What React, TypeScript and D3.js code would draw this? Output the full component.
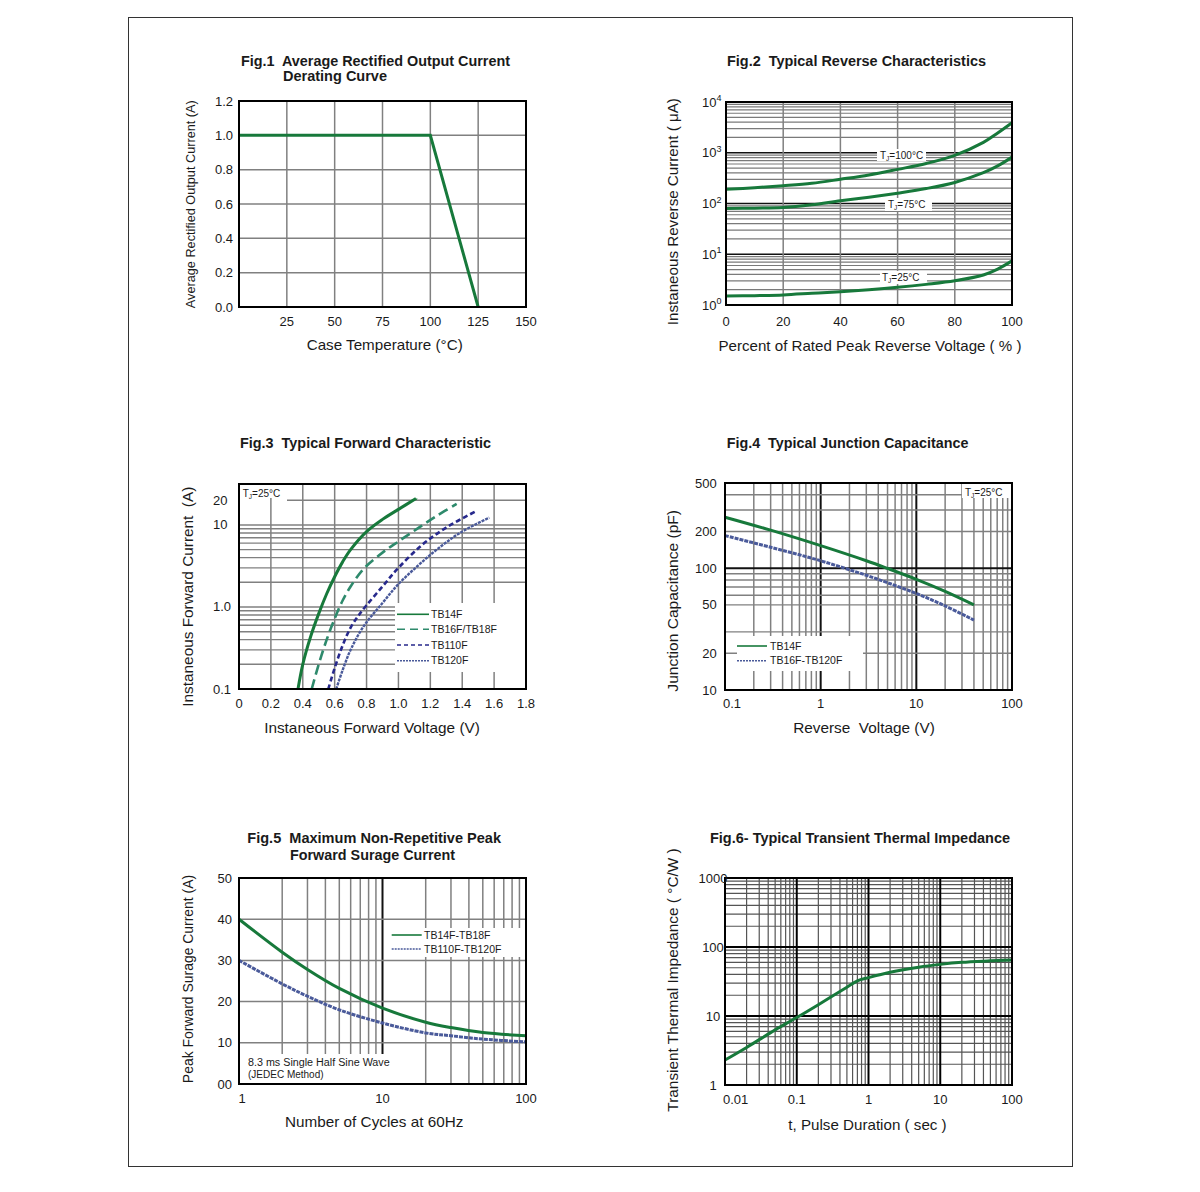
import React from 'react';
import * as d3 from 'd3';

const FONT = '"Liberation Sans", Arial, Helvetica, sans-serif';
const GREEN = '#17793b';
const TEAL = '#2e8a6c';
const NAVY = '#27298c';
const SLATE = '#4a5a9a';
const GRID = '#808080';
const SP = '\u00A0';

// ---------- Fig.1 data ----------
const fig1Temp = [0, 100, 125];
const fig1Current = [1.0, 1.0, 0.0];
const fig1XTicks = [25, 50, 75, 100, 125, 150];
const fig1XTickLabels = ['25', '50', '75', '100', '125', '150'];
const fig1YTicks = [0, 0.2, 0.4, 0.6, 0.8, 1.0, 1.2];
const fig1YTickLabels = ['0.0', '0.2', '0.4', '0.6', '0.8', '1.0', '1.2'];

// ---------- Fig.2 data ----------
const fig2Voltage = [0, 10, 20, 30, 40, 50, 60, 70, 80, 90, 95, 100];
const fig2I100 = [190, 205, 224, 250, 300, 365, 470, 615, 890, 1600, 2450, 3900];
const fig2I75 = [80, 81, 83, 94, 113, 133, 160, 197, 260, 405, 550, 820];
const fig2I25 = [1.5, 1.53, 1.58, 1.7, 1.83, 2.0, 2.23, 2.55, 3.0, 3.9, 5.1, 7.4];
const fig2XTicks = [0, 20, 40, 60, 80, 100];
const fig2XGrid = [20, 40, 60, 80];
const fig2YExponents = [0, 1, 2, 3, 4];

// ---------- Fig.3 data ----------
const fig3V_TB14F = [0.37, 0.4, 0.45, 0.5, 0.55, 0.6, 0.65, 0.7, 0.8, 0.9, 1.0, 1.11];
const fig3I_TB14F = [0.1, 0.2, 0.44, 0.83, 1.45, 2.34, 3.55, 5.0, 8.3, 11.7, 15.5, 21];
const fig3V_TB16F = [0.456, 0.5, 0.55, 0.6, 0.65, 0.7, 0.78, 0.9, 1.0, 1.114, 1.24, 1.365];
const fig3I_TB16F = [0.1, 0.2, 0.4, 0.72, 1.2, 1.78, 2.9, 4.6, 6.3, 8.9, 12.9, 18.1];
const fig3V_TB110F = [0.56, 0.6, 0.65, 0.7, 0.75, 0.8, 0.9, 1.0, 1.15, 1.3, 1.48];
const fig3I_TB110F = [0.1, 0.18, 0.34, 0.56, 0.79, 1.05, 1.78, 3.0, 5.75, 9.3, 14.5];
const fig3V_TB120F = [0.61, 0.65, 0.7, 0.78, 0.9, 1.0, 1.12, 1.24, 1.39, 1.57];
const fig3I_TB120F = [0.1, 0.17, 0.3, 0.575, 1.12, 1.9, 3.16, 5.0, 8.1, 12.3];
const fig3XTicks = [0, 0.2, 0.4, 0.6, 0.8, 1.0, 1.2, 1.4, 1.6, 1.8];
const fig3XTickLabels = ['0', '0.2', '0.4', '0.6', '0.8', '1.0', '1.2', '1.4', '1.6', '1.8'];
const fig3XGrid = [0.2, 0.4, 0.6, 0.8, 1.0, 1.2, 1.4, 1.6];
const fig3YTicks = [0.1, 1, 10, 20];
const fig3YTickLabels = ['0.1', '1.0', '10', '20'];
const fig3Legend = ['TB14F', 'TB16F/TB18F', 'TB110F', 'TB120F'];

// ---------- Fig.4 data ----------
const fig4Voltage = [0.1, 0.3, 1, 3, 5, 10, 20, 40];
const fig4TB14F = [262, 205, 153, 115, 99.5, 81, 64.5, 50];
const fig4TB16F = [185, 148.6, 115, 87.4, 75.9, 62, 49, 37.5];
const fig4XTicks = [0.1, 1, 10, 100];
const fig4XTickLabels = ['0.1', '1', '10', '100'];
const fig4YTicks = [10, 20, 50, 100, 200, 500];
const fig4YTickLabels = ['10', '20', '50', '100', '200', '500'];
const fig4YGrid = [20, 30, 50, 60, 70, 80, 90, 200, 300, 400];
const fig4Legend = ['TB14F', 'TB16F-TB120F'];

// ---------- Fig.5 data ----------
const fig5Cycles = [1, 2, 3, 5, 10, 20, 30, 50, 100];
const fig5TB14F = [40, 32, 27.8, 23.2, 18.4, 15.0, 13.7, 12.5, 11.7];
const fig5TB110F = [30, 24.3, 21.3, 18.0, 14.8, 12.4, 11.7, 10.9, 10.2];
const fig5XTicks = [1, 10, 100];
const fig5XTickLabels = ['1', '10', '100'];
const fig5YTicks = [0, 10, 20, 30, 40, 50];
const fig5YTickLabels = ['00', '10', '20', '30', '40', '50'];
const fig5Legend = ['TB14F-TB18F', 'TB110F-TB120F'];

// ---------- Fig.6 data ----------
const fig6Time = [0.01, 0.02, 0.05, 0.1, 0.2, 0.5, 0.7, 1, 2, 5, 10, 20, 50, 100];
const fig6Z = [2.3, 3.5, 6.3, 9.5, 14.6, 26.1, 32.4, 36, 43, 51, 56, 60, 63, 65];
const fig6XTicks = [0.01, 0.1, 1, 10, 100];
const fig6XTickLabels = ['0.01', '0.1', '1', '10', '100'];
const fig6YTicks = [1, 10, 100, 1000];
const fig6YTickLabels = ['1', '10', '100', '1000'];

type S = (v: number) => number;

const hLines = (vals: number[], y: S, x0: number, x1: number, stroke: string, sw: number, k: string) =>
  vals.map((v, i) => (
    <line key={k + i} x1={x0} x2={x1} y1={y(v)} y2={y(v)} stroke={stroke} strokeWidth={sw} />
  ));
const vLines = (vals: number[], x: S, y0: number, y1: number, stroke: string, sw: number, k: string) =>
  vals.map((v, i) => (
    <line key={k + i} x1={x(v)} x2={x(v)} y1={y0} y2={y1} stroke={stroke} strokeWidth={sw} />
  ));

const Frame = ({ x0, y0, x1, y1 }: any) => (
  <rect x={x0} y={y0} width={x1 - x0} height={y1 - y0} fill="none" stroke="#000" strokeWidth={2} />
);

const T = ({ x, y, size = 13, anchor = 'start', weight = 'normal', len, children }: any) => (
  <text
    x={x}
    y={y}
    fontSize={size}
    fontFamily={FONT}
    textAnchor={anchor}
    fontWeight={weight}
    fill="#1a1a1a"
    textLength={len}
    lengthAdjust={len ? 'spacingAndGlyphs' : undefined}
  >
    {children}
  </text>
);

const YTitle = ({ x, y, len, size = 15, children }: any) => (
  <text
    transform={`translate(${x},${y}) rotate(-90)`}
    fontSize={size}
    fontFamily={FONT}
    textAnchor="middle"
    fill="#1a1a1a"
    textLength={len}
    lengthAdjust="spacingAndGlyphs"
  >
    {children}
  </text>
);

const TJ = ({ x, y, t }: any) => (
  <text x={x} y={y} fontSize={10} fontFamily={FONT} fill="#1a1a1a">
    T
    <tspan fontSize={6.5} dy={2}>
      J
    </tspan>
    <tspan dy={-2}>={t}°C</tspan>
  </text>
);

const WB = ({ x0, y0, x1, y1 }: any) => <rect x={x0} y={y0} width={x1 - x0} height={y1 - y0} fill="#fff" />;

const mkLine = (xs: S, ys: S, curve: any = d3.curveCatmullRom.alpha(0.5)) =>
  d3
    .line<[number, number]>()
    .x((d) => xs(d[0]))
    .y((d) => ys(d[1]))
    .curve(curve);

const zip = (a: number[], b: number[]) => a.map((v, i) => [v, b[i]] as [number, number]);

function Fig1() {
  const L = 239, R = 526, TOP = 101, B = 307;
  const x = d3.scaleLinear().domain([0, 150]).range([L, R]);
  const y = d3.scaleLinear().domain([0, 1.2]).range([B, TOP]);
  const line = mkLine(x, y, d3.curveLinear);
  return (
    <g>
      {vLines([25, 50, 75, 100, 125], x, TOP, B, GRID, 1.5, 'f1v')}
      {hLines([0.2, 0.4, 0.6, 0.8, 1.0], y, L, R, GRID, 1.5, 'f1h')}
      <path d={line(zip(fig1Temp, fig1Current)) || ''} fill="none" stroke={GREEN} strokeWidth={3} />
      <Frame x0={L} y0={TOP} x1={R} y1={B} />
      {fig1YTicks.map((v, i) => (
        <T key={i} x={233} y={y(v) + 4.5} anchor="end">
          {fig1YTickLabels[i]}
        </T>
      ))}
      {fig1XTicks.map((v, i) => (
        <T key={i} x={x(v)} y={325.5} anchor="middle">
          {fig1XTickLabels[i]}
        </T>
      ))}
      <T x={241} y={65.7} size={14} weight="bold" len={269}>
        {`Fig.1${SP} Average Rectified Output Current`}
      </T>
      <T x={283} y={80.7} size={14} weight="bold" len={104}>
        Derating Curve
      </T>
      <T x={384.7} y={350} size={15} anchor="middle" len={156}>
        Case Temperature (°C)
      </T>
      <YTitle x={194.5} y={204.2} len={208} size={13}>
        Average Rectified Output Current (A)
      </YTitle>
    </g>
  );
}

function Fig2() {
  const L = 726, R = 1012, TOP = 102, B = 305;
  const x = d3.scaleLinear().domain([0, 100]).range([L, R]);
  const y = d3.scaleLog().domain([1, 1e4]).range([B, TOP]);
  const minors = y.ticks().filter((v) => ![1, 10, 100, 1000, 10000].includes(v));
  const line = mkLine(x, y);
  return (
    <g>
      {hLines(minors, y, L, R, '#7a7a7a', 1.2, 'f2m')}
      {hLines([10, 100, 1000], y, L, R, '#111', 1.6, 'f2M')}
      {vLines(fig2XGrid, x, TOP, B, GRID, 1.5, 'f2v')}
      <WB x0={877} y0={149} x1={926} y1={161} />
      <WB x0={885} y0={198} x1={932} y1={211} />
      <WB x0={880} y0={271} x1={927} y1={284} />
      <path d={line(zip(fig2Voltage, fig2I100)) || ''} fill="none" stroke={GREEN} strokeWidth={3} />
      <path d={line(zip(fig2Voltage, fig2I75)) || ''} fill="none" stroke={GREEN} strokeWidth={3} />
      <path d={line(zip(fig2Voltage, fig2I25)) || ''} fill="none" stroke={GREEN} strokeWidth={3} />
      <TJ x={880} y={159} t="100" />
      <TJ x={888} y={208} t="75" />
      <TJ x={882} y={281} t="25" />
      <Frame x0={L} y0={TOP} x1={R} y1={B} />
      {fig2YExponents.map((e) => (
        <text key={e} x={702} y={y(10 ** e) + 4.7} fontSize={13} fontFamily={FONT} fill="#1a1a1a">
          10
          <tspan dy={-5.5} fontSize={9}>
            {e}
          </tspan>
        </text>
      ))}
      {fig2XTicks.map((v, i) => (
        <T key={i} x={x(v)} y={325.5} anchor="middle">
          {String(v)}
        </T>
      ))}
      <T x={727} y={65.7} size={14} weight="bold" len={259}>
        {`Fig.2${SP} Typical Reverse Characteristics`}
      </T>
      <T x={870} y={351} size={15} anchor="middle" len={303}>
        Percent of Rated Peak Reverse Voltage ( % )
      </T>
      <YTitle x={678} y={211.7} len={227}>
        Instaneous Reverse Current ( μA)
      </YTitle>
    </g>
  );
}

function Fig3() {
  const L = 239, R = 526, TOP = 484, B = 689;
  const x = d3.scaleLinear().domain([0, 1.8]).range([L, R]);
  const y = d3.scaleLog().domain([0.1, 31.6]).range([B, TOP]);
  const hgrid = y.ticks().filter((v) => v > 0.1 && v < 20);
  const line = mkLine(x, y);
  const series = [
    { v: fig3V_TB14F, i: fig3I_TB14F, c: GREEN, dash: undefined, w: 3, ld: undefined },
    { v: fig3V_TB16F, i: fig3I_TB16F, c: TEAL, dash: '10 5', w: 2.6, ld: '8 5' },
    { v: fig3V_TB110F, i: fig3I_TB110F, c: NAVY, dash: '5 3', w: 2.6, ld: '4 3' },
    { v: fig3V_TB120F, i: fig3I_TB120F, c: SLATE, dash: '3 1', w: 2.4, ld: '2 1' },
  ];
  const legY = [614.3, 629.3, 645, 660.7];
  return (
    <g>
      {hLines(hgrid, y, L, R, GRID, 1.4, 'f3h')}
      {hLines([20], y, 287, R, GRID, 1.4, 'f3h20')}
      {vLines(fig3XGrid, x, TOP, B, GRID, 1.5, 'f3v')}
      <WB x0={240} y0={485} x1={287} y1={498} />
      <WB x0={395} y0={603} x1={525} y1={672} />
      {series.map((s, k) => (
        <path
          key={k}
          d={line(zip(s.v, s.i)) || ''}
          fill="none"
          stroke={s.c}
          strokeWidth={s.w}
          strokeDasharray={s.dash}
        />
      ))}
      {series.map((s, k) => (
        <g key={'l' + k}>
          <line x1={397} x2={429} y1={legY[k]} y2={legY[k]} stroke={s.c} strokeWidth={1.6} strokeDasharray={s.ld} />
          <T x={431} y={legY[k] + 3.7} size={10.5}>
            {fig3Legend[k]}
          </T>
        </g>
      ))}
      <TJ x={242.7} y={496.5} t="25" />
      <Frame x0={L} y0={TOP} x1={R} y1={B} />
      {fig3YTicks.map((v, i) => (
        <T key={i} x={213} y={y(v) + 4.5}>
          {fig3YTickLabels[i]}
        </T>
      ))}
      {fig3XTicks.map((v, i) => (
        <T key={i} x={x(v)} y={707.5} anchor="middle">
          {fig3XTickLabels[i]}
        </T>
      ))}
      <T x={240} y={448.3} size={14} weight="bold" len={251}>
        {`Fig.3${SP} Typical Forward Characteristic`}
      </T>
      <T x={372} y={733} size={15} anchor="middle" len={215.7}>
        Instaneous Forward Voltage (V)
      </T>
      <YTitle x={193} y={596.7} len={220}>
        {`Instaneous Forward Current${SP} (A)`}
      </YTitle>
    </g>
  );
}

function Fig4() {
  const L = 725, R = 1012, TOP = 483, B = 690;
  const x = d3.scaleLog().domain([0.1, 100]).range([L, R]);
  const y = d3.scaleLog().domain([10, 500]).range([B, TOP]);
  const xminor = x.ticks().filter((v) => ![0.1, 1, 10, 100].includes(v));
  const line = mkLine(x, y);
  return (
    <g>
      {vLines(xminor, x, TOP, B, GRID, 1.5, 'f4v')}
      {vLines([1, 10], x, TOP, B, '#111', 2, 'f4V')}
      {hLines(fig4YGrid, y, L, R, GRID, 1.4, 'f4h')}
      {hLines([100], y, L, R, '#111', 2, 'f4H')}
      <WB x0={962} y0={484} x1={1011} y1={498} />
      <WB x0={737} y0={636} x1={863} y1={671} />
      <path d={line(zip(fig4Voltage, fig4TB14F)) || ''} fill="none" stroke={GREEN} strokeWidth={3} />
      <path
        d={line(zip(fig4Voltage, fig4TB16F)) || ''}
        fill="none"
        stroke={SLATE}
        strokeWidth={3}
        strokeDasharray="4 1"
      />
      <line x1={737} x2={767} y1={646} y2={646} stroke={GREEN} strokeWidth={1.6} />
      <line x1={737} x2={767} y1={660.7} y2={660.7} stroke={SLATE} strokeWidth={1.6} strokeDasharray="2 1" />
      <T x={770} y={649.7} size={10.5}>
        {fig4Legend[0]}
      </T>
      <T x={770} y={664.4} size={10.5}>
        {fig4Legend[1]}
      </T>
      <TJ x={965} y={496} t="25" />
      <Frame x0={L} y0={TOP} x1={R} y1={B} />
      {fig4YTicks.map((v, i) => (
        <T key={i} x={716.7} y={y(v) + 4.5} anchor="end">
          {fig4YTickLabels[i]}
        </T>
      ))}
      {fig4XTicks.map((v, i) => (
        <T key={i} x={i === 0 ? L - 2 : x(v)} y={707.5} anchor={i === 0 ? 'start' : 'middle'}>
          {fig4XTickLabels[i]}
        </T>
      ))}
      <T x={726.7} y={448.3} size={14} weight="bold" len={241.7}>
        {`Fig.4${SP} Typical Junction Capacitance`}
      </T>
      <T x={864} y={733} size={15} anchor="middle" len={141.7}>
        {`Reverse${SP} Voltage (V)`}
      </T>
      <YTitle x={678} y={600.8} len={181.7}>
        Junction Capacitance (pF)
      </YTitle>
    </g>
  );
}

function Fig5() {
  const L = 239, R = 526, TOP = 878, B = 1084;
  const x = d3.scaleLog().domain([1, 100]).range([L, R]);
  const y = d3.scaleLinear().domain([0, 50]).range([B, TOP]);
  const xminor = x.ticks().filter((v) => ![1, 10, 100].includes(v));
  const line = mkLine(x, y);
  return (
    <g>
      {vLines(xminor, x, TOP, B, GRID, 1.5, 'f5v')}
      {vLines([10], x, TOP, B, '#111', 2, 'f5V')}
      {hLines([10, 20, 30, 40], y, L, R, GRID, 1.5, 'f5h')}
      <WB x0={388} y0={928} x1={525} y1={957} />
      <WB x0={240} y0={1054} x1={390} y1={1083} />
      <path d={line(zip(fig5Cycles, fig5TB14F)) || ''} fill="none" stroke={GREEN} strokeWidth={3} />
      <path
        d={line(zip(fig5Cycles, fig5TB110F)) || ''}
        fill="none"
        stroke={SLATE}
        strokeWidth={3}
        strokeDasharray="4 1"
      />
      <line x1={391.7} x2={421.7} y1={935} y2={935} stroke={GREEN} strokeWidth={1.6} />
      <line x1={391.7} x2={421.7} y1={949} y2={949} stroke={SLATE} strokeWidth={1.6} strokeDasharray="2 1" />
      <T x={424} y={938.7} size={10.5}>
        {fig5Legend[0]}
      </T>
      <T x={424} y={952.7} size={10.5}>
        {fig5Legend[1]}
      </T>
      <T x={248} y={1065.8} size={10} len={141.7}>
        8.3 ms Single Half Sine Wave
      </T>
      <T x={248} y={1077.8} size={10}>
        (JEDEC Method)
      </T>
      <Frame x0={L} y0={TOP} x1={R} y1={B} />
      {fig5YTicks.map((v, i) => (
        <T key={i} x={232} y={y(v) + 4.5} anchor="end">
          {fig5YTickLabels[i]}
        </T>
      ))}
      {fig5XTicks.map((v, i) => (
        <T key={i} x={i === 0 ? 242 : x(v)} y={1102.5} anchor="middle">
          {fig5XTickLabels[i]}
        </T>
      ))}
      <T x={247.3} y={843.3} size={14} weight="bold" len={253.7}>
        {`Fig.5${SP} Maximum Non-Repetitive Peak`}
      </T>
      <T x={290} y={860} size={14} weight="bold" len={165}>
        Forward Surage Current
      </T>
      <T x={374.2} y={1127} size={15} anchor="middle" len={178.3}>
        Number of Cycles at 60Hz
      </T>
      <YTitle x={193} y={979} len={208.3}>
        Peak Forward Surage Current (A)
      </YTitle>
    </g>
  );
}

function Fig6() {
  const L = 725, R = 1012, TOP = 878, B = 1085;
  const x = d3.scaleLog().domain([0.01, 100]).range([L, R]);
  const y = d3.scaleLog().domain([1, 1000]).range([B, TOP]);
  const xminor = x.ticks().filter((v) => ![0.01, 0.1, 1, 10, 100].includes(v));
  const yminor = y.ticks().filter((v) => ![1, 10, 100, 1000].includes(v));
  const line = mkLine(x, y);
  return (
    <g>
      {vLines(xminor, x, TOP, B, '#555', 1.2, 'f6v')}
      {hLines(yminor, y, L, R, '#555', 1.2, 'f6h')}
      {vLines([0.1, 1, 10], x, TOP, B, '#000', 2, 'f6V')}
      {hLines([10, 100], y, L, R, '#000', 2, 'f6H')}
      <path d={line(zip(fig6Time, fig6Z)) || ''} fill="none" stroke={GREEN} strokeWidth={3} />
      <Frame x0={L} y0={TOP} x1={R} y1={B} />
      {fig6YTicks.map((v, i) => (
        <T key={i} x={713} y={y(v) + 4.5} anchor="middle">
          {fig6YTickLabels[i]}
        </T>
      ))}
      {fig6XTicks.map((v, i) => (
        <T key={i} x={i === 0 ? L - 2 : x(v)} y={1103.5} anchor={i === 0 ? 'start' : 'middle'}>
          {fig6XTickLabels[i]}
        </T>
      ))}
      <T x={710} y={843.3} size={14} weight="bold" len={300}>
        Fig.6- Typical Transient Thermal Impedance
      </T>
      <T x={867.5} y={1130} size={15} anchor="middle" len={158.3}>
        t, Pulse Duration ( sec )
      </T>
      <YTitle x={678} y={980} len={263.3}>
        Transient Thermal Impedance ( °C/W )
      </YTitle>
    </g>
  );
}

export default function App() {
  return (
    <svg
      width={1200}
      height={1192}
      viewBox="0 0 1200 1192"
      style={{ position: 'absolute', left: 0, top: 0, background: '#fff' }}
    >
      <rect x={0} y={0} width={1200} height={1192} fill="#fff" />
      <rect x={128.5} y={17.5} width={944} height={1149} fill="none" stroke="#333" strokeWidth={1} />
      <Fig1 />
      <Fig2 />
      <Fig3 />
      <Fig4 />
      <Fig5 />
      <Fig6 />
    </svg>
  );
}
